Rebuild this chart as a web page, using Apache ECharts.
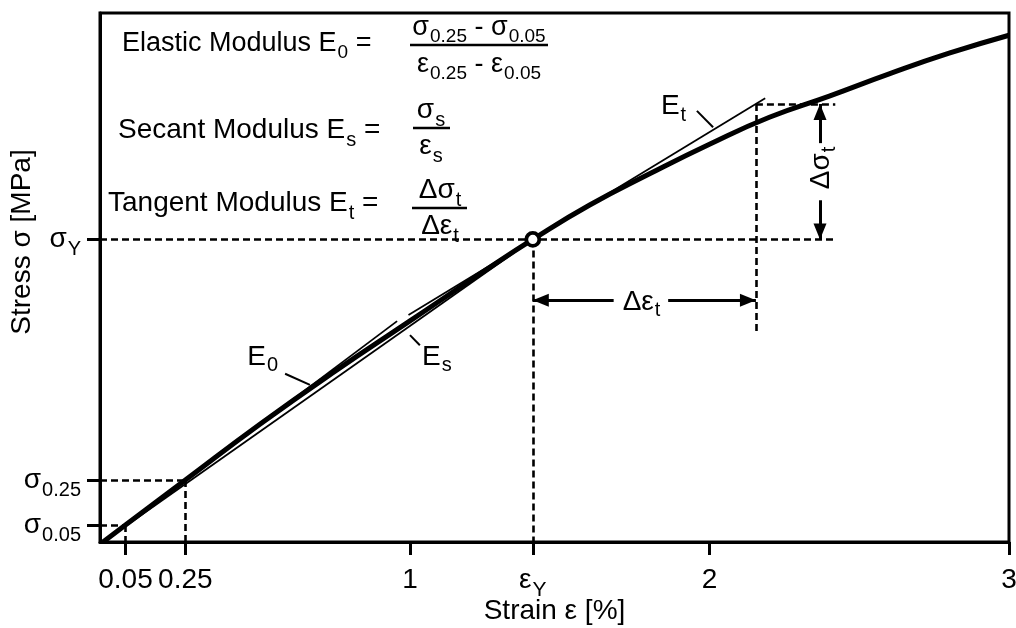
<!DOCTYPE html>
<html>
<head>
<meta charset="utf-8">
<script src="https://cdn.jsdelivr.net/npm/echarts@6/dist/echarts.min.js"></script>
<style>
  html, body { margin: 0; padding: 0; background: #fff; }
  #chart { width: 1016px; height: 628px; }
</style>
</head>
<body>
<div id="chart"></div>
<script>
// ---- data -------------------------------------------------------------
// stress-strain curve: strain [%] and stress (schematic units)
const strain = [-0.025, 0.05, 0.25, 0.5, 0.75, 1.0, 1.25, 1.41, 1.6, 1.8, 2.0, 2.2, 2.4, 2.6, 2.8, 3.0];
const stress = [0, 3.2, 11.7, 22.3, 32.3, 41.8, 51.3, 57.2, 63.7, 69.6, 75.2, 80.3, 84.3, 88.5, 92.4, 95.8];

// characteristic points
const eps005 = 0.05, eps025 = 0.25, epsY = 1.41, epsT = 2.155;
const sig005 = 3.2, sig025 = 11.7, sigY = 57.2, sigT = 82.8;

// modulus lines (start / end points)
const e0Line = [[-0.025, 0], [0.957, 41.75]];
const esLine = [[-0.025, 0], [epsY, sigY]];
const etLine = [[0.995, 42.9], [2.186, 83.9]];

// axis ticks and labels
const xTickValues = [0.05, 0.25, 1, epsY, 2, 3];
const xTickLabels = ['0.05', '0.25', '1', 'εY', '2', '3'];
const yTickValues = [sig005, sig025, sigY];
const yTickLabels = ['σ0.05', 'σ0.25', 'σY'];

const xMin = -0.035, xMax = 3, yMin = 0, yMax = 100;

// ---- helpers ------------------------------------------------------------
const FONT = '"Liberation Sans", Arial, Helvetica, sans-serif';
const richSet = (size, sub, drop) => ({
  m: { fontFamily: FONT, fontSize: size, lineHeight: size, verticalAlign: 'top', color: '#000' },
  s: { fontFamily: FONT, fontSize: sub, lineHeight: sub, verticalAlign: 'top', padding: [drop, 0, 0, 1], color: '#000' }
});
// "σ0.25" -> main glyph + subscript
const withSub = (label) => {
  const g = label[0];
  if (/[σεE]/.test(g) && label.length > 1) return `{m|${g}}{s|${label.slice(1)}}`;
  return `{m|${label}}`;
};
const tok = (main, sub) => `{m|${main}}` + (sub ? `{s|${sub}}` : '');

const seg = (a, b) => [{ coord: a }, { coord: b }];

const curveData = strain.map((x, i) => [x, stress[i]]);

// dashed guide lines
const guides = [
  seg([xMin, sig005], [eps005, sig005]), seg([eps005, sig005], [eps005, yMin]),
  seg([xMin, sig025], [eps025, sig025]), seg([eps025, sig025], [eps025, yMin]),
  seg([xMin, sigY], [2.42, sigY]), seg([epsY, sigY], [epsY, yMin]),
  seg([epsT, sigT], [2.42, sigT]), seg([epsT, sigT], [epsT, 39.7])
];

// dimension arrows (arrow head at the second point)
const arrows = [
  seg([1.68, 45.7], [epsY, 45.7]), seg([1.862, 45.7], [epsT, 45.7]),
  seg([2.369, 75.4], [2.369, sigT]), seg([2.369, 64.6], [2.369, sigY])
];

// label leader lines
const leaders = [
  seg([0.583, 31.8], [0.666, 29.7]),
  seg([1.0, 39.1], [1.033, 37.2]),
  seg([1.958, 81.5], [2.012, 78.4])
];

// text annotations placed in data space
const notes = [
  { value: [0.508, 35.0], text: tok('E', '0') },
  { value: [1.09, 35.0], text: tok('E', 's') },
  { value: [1.88, 82.3], text: tok('E', 't') },
  { value: [1.773, 45.4], text: tok('Δε', 't') },
  { value: [2.372, 70.7], text: tok('Δσ', 't'), rotate: 90 }
];

// ---- chart --------------------------------------------------------------
const chart = echarts.init(document.getElementById('chart'), null, { renderer: 'canvas' });

const lineSeries = (data, width) => ({
  type: 'line', data, showSymbol: false, symbol: 'none', silent: true,
  lineStyle: { color: '#000', width }, z: 3
});

const eqRich28 = richSet(28, 20, 14);
const eqRich27 = richSet(27, 19, 13);

const text = (x, y, str, rich, align, vAlign) => ({
  type: 'text', x, y, silent: true,
  style: { text: str, rich, align, verticalAlign: vAlign, fill: '#000' }
});
const bar = (x1, x2, y) => ({
  type: 'line', silent: true, shape: { x1, y1: y, x2, y2: y },
  style: { stroke: '#000', lineWidth: 2.5 }
});

chart.setOption({
  animation: false,
  backgroundColor: '#fff',
  grid: { left: 100, right: 7, top: 13, bottom: 86, show: true, borderColor: '#000', borderWidth: 3,
          containLabel: false, outerBoundsMode: 'none' },
  xAxis: {
    type: 'value', min: xMin, max: xMax,
    name: 'Strain ε [%]', nameLocation: 'middle', nameGap: 55, nameMoveOverlap: false,
    nameTextStyle: { fontFamily: FONT, fontSize: 28, color: '#000' },
    axisLine: { show: true, onZero: false, lineStyle: { color: '#000', width: 3 } },
    axisTick: { show: true, customValues: xTickValues, length: 13, lineStyle: { color: '#000', width: 3 } },
    axisLabel: {
      customValues: xTickValues, margin: 38, verticalAlign: 'middle', hideOverlap: false,
      formatter: (v) => withSub(xTickLabels[xTickValues.indexOf(v)] || ''),
      rich: richSet(28, 21, 14)
    },
    splitLine: { show: false }
  },
  yAxis: {
    type: 'value', min: yMin, max: yMax,
    axisLine: { show: true, onZero: false, lineStyle: { color: '#000', width: 3 } },
    axisTick: { show: true, customValues: yTickValues, length: 13, lineStyle: { color: '#000', width: 3 } },
    axisLabel: {
      customValues: yTickValues, margin: 19, align: 'right', verticalAlign: 'middle', hideOverlap: false,
      formatter: (v) => withSub(yTickLabels[yTickValues.indexOf(v)] || ''),
      rich: richSet(28, 20, 14)
    },
    splitLine: { show: false }
  },
  series: [
    {
      type: 'line', data: [], silent: true,
      markLine: {
        silent: true, symbol: 'none', animation: false,
        lineStyle: { color: '#000', width: 2.6, type: [7, 4] },
        label: { show: false }, data: guides
      }
    },
    lineSeries([e0Line[0], e0Line[1]], 1.8),
    lineSeries([esLine[0], esLine[1]], 1.8),
    lineSeries([etLine[0], etLine[1]], 1.8),
    {
      type: 'line', data: curveData, smooth: 0.5,
      showSymbol: false, symbol: 'none', silent: true,
      lineStyle: { color: '#000', width: 5 }, z: 4
    },
    {
      type: 'line', data: [], silent: true,
      markLine: {
        silent: true, symbol: ['none', 'triangle'], symbolSize: [13, 16], symbolOffset: [[0, 0], [0, 8]],
        animation: false,
        lineStyle: { color: '#000', width: 3, type: 'solid' },
        itemStyle: { color: '#000' },
        label: { show: false }, data: arrows
      }
    },
    {
      type: 'line', data: [], silent: true,
      markLine: {
        silent: true, symbol: 'none', animation: false,
        lineStyle: { color: '#000', width: 2, type: 'solid' },
        label: { show: false }, data: leaders
      }
    },
    {
      type: 'scatter', data: [[epsY, sigY]], symbol: 'circle', symbolSize: 13, silent: true, z: 6,
      itemStyle: { color: '#fff', borderColor: '#000', borderWidth: 3.8, opacity: 1 }
    },
    {
      type: 'scatter', symbolSize: 0, silent: true, z: 7,
      itemStyle: { opacity: 1, color: '#000' },
      data: notes.map(n => ({
        value: n.value,
        label: { show: true, position: 'inside', formatter: n.text, rotate: n.rotate || 0,
                 color: '#000', textBorderWidth: 0, rich: richSet(28, 20, 13) }
      }))
    }
  ],
  graphic: [
    // y axis title
    { type: 'text', x: 22, y: 242, rotation: Math.PI / 2, silent: true,
      style: { text: 'Stress σ [MPa]', font: `28px ${FONT}`, fill: '#000', align: 'center', verticalAlign: 'middle' } },
    // elastic modulus
    text(122, 30, tok('Elastic Modulus E', '0') + '{m| =}', eqRich27, 'left', 'top'),
    text(479, 41, tok('σ', '0.25') + '{m| - }' + tok('σ', '0.05'), eqRich27, 'center', 'bottom'),
    bar(410, 548, 45),
    text(479, 51, tok('ε', '0.25') + '{m| - }' + tok('ε', '0.05'), eqRich27, 'center', 'top'),
    // secant modulus
    text(118, 116, tok('Secant Modulus E', 's') + '{m| =}', eqRich28, 'left', 'top'),
    text(431, 124, tok('σ', 's'), eqRich28, 'center', 'bottom'),
    bar(413, 450, 128),
    text(431, 132, tok('ε', 's'), eqRich28, 'center', 'top'),
    // tangent modulus
    text(108, 189, tok('Tangent Modulus E', 't') + '{m| =}', eqRich28, 'left', 'top'),
    text(440, 204, tok('Δσ', 't'), eqRich28, 'center', 'bottom'),
    bar(412, 467, 208),
    text(440, 212, tok('Δε', 't'), eqRich28, 'center', 'top')
  ]
});
</script>
</body>
</html>
